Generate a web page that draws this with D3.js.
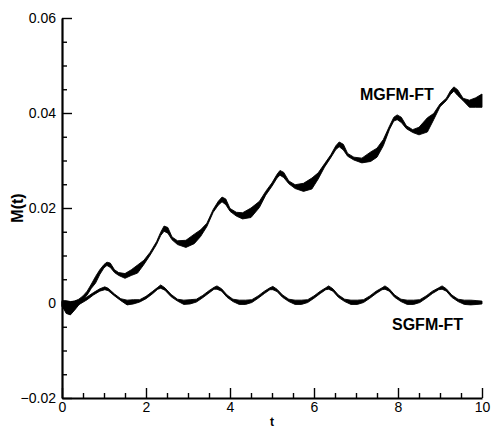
<!DOCTYPE html>
<html>
<head>
<meta charset="utf-8">
<script src="https://cdn.jsdelivr.net/npm/d3@7"></script>
<style>
  body { margin: 0; background: #fff; }
  svg { display: block; font-family: "Liberation Sans", Arial, sans-serif; }
</style>
</head>
<body>
<div class="chart"></div>
<script>
// axis ticks
var xMajor = [0, 2, 4, 6, 8, 10];
var yMajor = [-0.02, 0, 0.02, 0.04, 0.06];
var xMinor = [0.5, 1, 1.5, 2.5, 3, 3.5, 4.5, 5, 5.5, 6.5, 7, 7.5, 8.5, 9, 9.5];
var yMinor = [-0.015, -0.01, -0.005, 0.005, 0.01, 0.015, 0.025, 0.03, 0.035, 0.045, 0.05, 0.055];

// MGFM-FT: time, lower and upper edge of the oscillation band
var mgfmT  = [0, 0.1, 0.2, 0.3, 0.4, 0.5, 0.6, 0.7, 0.8, 0.9, 1.0, 1.07, 1.15, 1.25, 1.35, 1.5, 1.65, 1.8, 1.95, 2.1, 2.25, 2.35, 2.43, 2.52, 2.62, 2.75, 2.95, 3.15, 3.3, 3.45, 3.6, 3.72, 3.81, 3.9, 4.0, 4.15, 4.3, 4.5, 4.7, 4.85, 5.0, 5.12, 5.19, 5.28, 5.4, 5.55, 5.75, 5.95, 6.1, 6.25, 6.4, 6.52, 6.6, 6.7, 6.8, 6.95, 7.14, 7.35, 7.5, 7.65, 7.8, 7.9, 7.98, 8.08, 8.2, 8.35, 8.5, 8.7, 8.85, 9.0, 9.15, 9.25, 9.33, 9.42, 9.55, 9.7, 9.85, 10.0];
var mgfmLo = [-0.0005, -0.0022, -0.0025, -0.0015, -0.0004, 0.0007, 0.0017, 0.0031, 0.0042, 0.006, 0.0074, 0.0079, 0.0075, 0.0064, 0.0058, 0.0052, 0.0058, 0.0063, 0.0081, 0.0101, 0.0123, 0.0142, 0.0151, 0.0147, 0.0133, 0.0123, 0.0117, 0.0125, 0.014, 0.0161, 0.0191, 0.0206, 0.0213, 0.0207, 0.0193, 0.0183, 0.0177, 0.018, 0.0201, 0.0227, 0.0246, 0.0263, 0.0269, 0.0264, 0.0251, 0.0241, 0.0235, 0.024, 0.0261, 0.0286, 0.0306, 0.0323, 0.0329, 0.0322, 0.0309, 0.0301, 0.0295, 0.0298, 0.0307, 0.0331, 0.0366, 0.0383, 0.0386, 0.038, 0.0367, 0.0359, 0.0354, 0.036, 0.0386, 0.0413, 0.0426, 0.0439, 0.0446, 0.0437, 0.0426, 0.0412, 0.0412, 0.0412];
var mgfmHi = [0.0005, 0.0005, 0.0003, 0.0004, 0.0008, 0.0015, 0.0025, 0.004, 0.0056, 0.007, 0.0081, 0.0086, 0.0084, 0.007, 0.0064, 0.0062, 0.007, 0.008, 0.009, 0.0107, 0.0129, 0.0149, 0.0162, 0.0159, 0.0139, 0.0131, 0.0132, 0.0145, 0.0154, 0.0168, 0.0197, 0.0214, 0.0223, 0.0219, 0.0199, 0.0191, 0.019, 0.02, 0.0214, 0.0235, 0.0253, 0.0271, 0.0279, 0.0275, 0.0257, 0.0249, 0.0252, 0.0263, 0.0274, 0.0293, 0.0312, 0.0331, 0.0339, 0.0334, 0.0315, 0.0307, 0.0305, 0.0318, 0.0326, 0.0344, 0.0373, 0.0391, 0.0396, 0.0391, 0.0373, 0.0365, 0.037, 0.039, 0.0399, 0.0419, 0.0431, 0.0447, 0.0455, 0.0449, 0.0431, 0.0427, 0.0432, 0.044];

// SGFM-FT
var sgfmT  = [0, 0.1, 0.2, 0.3, 0.45, 0.6, 0.75, 0.9, 1.02, 1.1, 1.25, 1.4, 1.55, 1.7, 1.85, 2.0, 2.15, 2.28, 2.35, 2.45, 2.6, 2.75, 2.9, 3.05, 3.2, 3.35, 3.5, 3.62, 3.69, 3.8, 3.93, 4.07, 4.22, 4.37, 4.52, 4.67, 4.82, 4.95, 5.02, 5.12, 5.25, 5.4, 5.55, 5.7, 5.85, 6.0, 6.15, 6.28, 6.35, 6.45, 6.58, 6.73, 6.88, 7.03, 7.18, 7.33, 7.48, 7.62, 7.69, 7.79, 7.92, 8.07, 8.22, 8.37, 8.52, 8.67, 8.82, 8.97, 9.05, 9.15, 9.28, 9.43, 9.58, 9.73, 9.88, 10.0];
var sgfmLo = [-0.0008, -0.0018, -0.0015, -0.0008, -0.0001, 0.0007, 0.0017, 0.0025, 0.0028, 0.0026, 0.0015, 0.0005, -0.0004, -0.0002, 0.0002, 0.0009, 0.0019, 0.0029, 0.0031, 0.0027, 0.0013, 0.0004, -0.0003, -0.0002, 0.0002, 0.0011, 0.0021, 0.0029, 0.0029, 0.0025, 0.0012, 0.0003, -0.0003, -0.0003, 0.0001, 0.001, 0.002, 0.0028, 0.0028, 0.0024, 0.0012, 0.0003, -0.0003, -0.0003, 0.0001, 0.001, 0.002, 0.0028, 0.0029, 0.0025, 0.0012, 0.0003, -0.0003, -0.0003, 0.0001, 0.001, 0.002, 0.0028, 0.0029, 0.0025, 0.0012, 0.0003, -0.0003, -0.0003, 0.0001, 0.001, 0.002, 0.0028, 0.0029, 0.0025, 0.0012, 0.0003, -0.0003, -0.0004, -0.0003, -0.0002];
var sgfmHi = [0.0003, 0.0003, 0.0002, 0.0004, 0.0006, 0.0013, 0.0022, 0.003, 0.0034, 0.0031, 0.0019, 0.0009, 0.0006, 0.0007, 0.0007, 0.0014, 0.0024, 0.0033, 0.0038, 0.0032, 0.0018, 0.0008, 0.0006, 0.0007, 0.0008, 0.0016, 0.0026, 0.0033, 0.0036, 0.003, 0.0017, 0.0008, 0.0006, 0.0006, 0.0007, 0.0015, 0.0025, 0.0032, 0.0035, 0.0029, 0.0017, 0.0008, 0.0006, 0.0006, 0.0007, 0.0015, 0.0025, 0.0032, 0.0036, 0.003, 0.0017, 0.0008, 0.0006, 0.0006, 0.0007, 0.0015, 0.0025, 0.0032, 0.0036, 0.003, 0.0017, 0.0008, 0.0006, 0.0006, 0.0007, 0.0015, 0.0025, 0.0032, 0.0036, 0.003, 0.0017, 0.0008, 0.0006, 0.0006, 0.0005, 0.0004];

var width = 497, height = 428;
var margin = { top: 18, right: 15, bottom: 30, left: 62 };

var svg = d3.select(".chart").append("svg")
	.attr("width", width)
	.attr("height", height);

var x = d3.scaleLinear().domain([0, 10]).range([margin.left, width - margin.right]);
var y = d3.scaleLinear().domain([-0.02, 0.06]).range([height - margin.bottom, margin.top]);

function band(ts, lo, hi) {
	return ts.map(function (t, i) { return { t: t, lo: lo[i], hi: hi[i] }; });
}

var area = d3.area()
	.x(function (d) { return x(d.t); })
	.y0(function (d) { return y(d.lo); })
	.y1(function (d) { return y(d.hi); });

[band(mgfmT, mgfmLo, mgfmHi), band(sgfmT, sgfmLo, sgfmHi)].forEach(function (data) {
	svg.append("path")
		.datum(data)
		.attr("d", area)
		.attr("fill", "#000")
		.attr("stroke", "#000")
		.attr("stroke-width", 0.9)
		.attr("stroke-linejoin", "round");
});

// minor ticks
svg.append("g")
	.attr("transform", "translate(0," + y(-0.02) + ")")
	.call(d3.axisBottom(x).tickValues(xMinor).tickSize(-5).tickFormat(""))
	.call(function (g) { g.select(".domain").remove(); });
svg.append("g")
	.attr("transform", "translate(" + x(0) + ",0)")
	.call(d3.axisLeft(y).tickValues(yMinor).tickSize(-5).tickFormat(""))
	.call(function (g) { g.select(".domain").remove(); });

// major axes
svg.append("g")
	.attr("transform", "translate(0," + y(-0.02) + ")")
	.call(d3.axisBottom(x).tickValues(xMajor).tickSize(-10).tickSizeOuter(0).tickPadding(4).tickFormat(d3.format("d")));
svg.append("g")
	.attr("transform", "translate(" + x(0) + ",0)")
	.call(d3.axisLeft(y).tickValues(yMajor).tickSize(-10).tickSizeOuter(0).tickPadding(6)
		.tickFormat(function (d) { return d === 0 ? "0" : d3.format(".2f")(d); }));

svg.selectAll(".tick line").attr("stroke", "#000").attr("stroke-width", 1.4);
svg.selectAll(".domain").attr("stroke", "#000").attr("stroke-width", 2.2);
svg.selectAll(".tick text")
	.attr("font-family", "Liberation Sans, Arial, sans-serif")
	.attr("font-size", 14)
	.attr("fill", "#000");

// axis titles
svg.append("text")
	.attr("transform", "translate(23," + (margin.top + (height - margin.bottom - margin.top) / 2) + ") rotate(-90)")
	.attr("text-anchor", "middle")
	.attr("font-size", 16)
	.attr("font-weight", "bold")
	.text("M(t)");

svg.append("text")
	.attr("x", x(5))
	.attr("y", 426)
	.attr("text-anchor", "middle")
	.attr("font-size", 12)
	.attr("font-weight", "bold")
	.text("t");

// series labels
svg.append("text")
	.attr("x", 360)
	.attr("y", 100)
	.attr("font-size", 16)
	.attr("font-weight", "bold")
	.text("MGFM-FT");

svg.append("text")
	.attr("x", 392)
	.attr("y", 330)
	.attr("font-size", 16)
	.attr("font-weight", "bold")
	.text("SGFM-FT");
</script>
</body>
</html>
